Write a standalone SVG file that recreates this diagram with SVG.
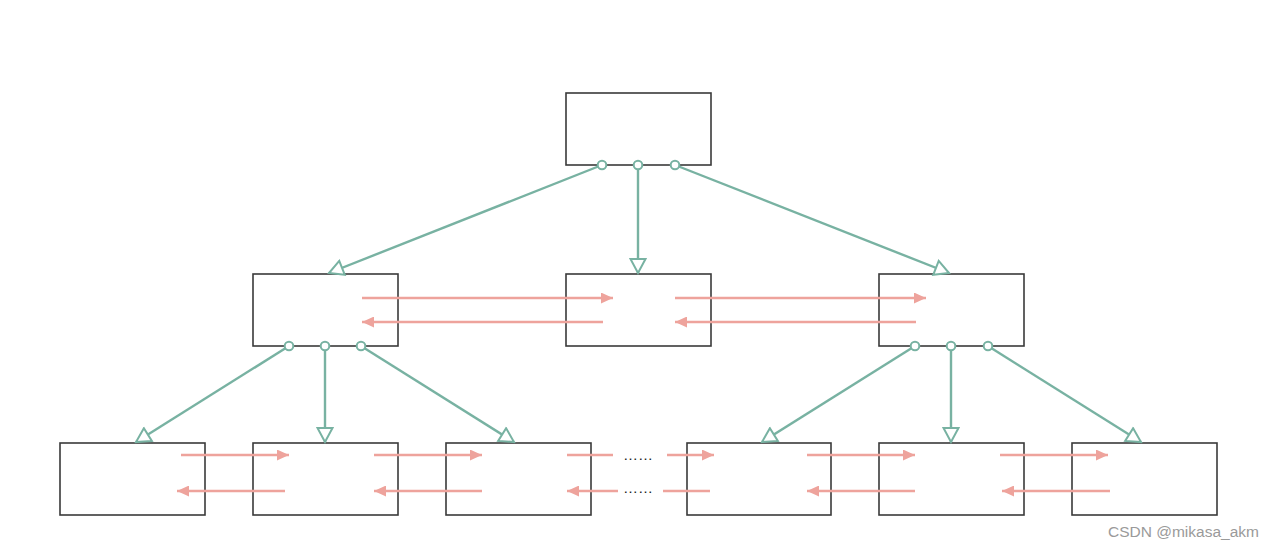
<svg xmlns="http://www.w3.org/2000/svg" width="1272" height="548" viewBox="0 0 1272 548">
<defs>
<style>
.box{fill:#fff;stroke:#3a3a3a;stroke-width:1.6}
.tl{stroke:#78b2a2;stroke-width:2.4;fill:none;marker-end:url(#tri)}
.pk{stroke:#eea39c;stroke-width:2.6;fill:none}
.pa{marker-end:url(#pa)}
.dot{fill:#fff;stroke:#78b2a2;stroke-width:2}
.dots{font-family:"Liberation Sans",Arial,sans-serif;font-size:15px;fill:#222}
</style>
<marker id="tri" viewBox="0 0 18 18" refX="16" refY="9" markerWidth="18" markerHeight="18" markerUnits="userSpaceOnUse" orient="auto">
<polygon points="2,1.5 16,9 2,16.5" fill="#fff" stroke="#78b2a2" stroke-width="2"/>
</marker>
<marker id="pa" viewBox="0 0 12 11" refX="12" refY="5.5" markerWidth="12" markerHeight="11" markerUnits="userSpaceOnUse" orient="auto">
<polygon points="0,0 12,5.5 0,11" fill="#eea39c"/>
</marker>
</defs>
<rect width="1272" height="548" fill="#fff"/>
<g id="nodes">
<g id="root"><rect class="box" x="566" y="93" width="145" height="72"/></g>
<g id="m1"><rect class="box" x="253" y="274" width="145" height="72"/></g>
<g id="m2"><rect class="box" x="566" y="274" width="145" height="72"/></g>
<g id="m3"><rect class="box" x="879" y="274" width="145" height="72"/></g>
<g id="l1"><rect class="box" x="60" y="443" width="145" height="72"/></g>
<g id="l2"><rect class="box" x="253" y="443" width="145" height="72"/></g>
<g id="l3"><rect class="box" x="446" y="443" width="145" height="72"/></g>
<g id="l4"><rect class="box" x="687" y="443" width="144" height="72"/></g>
<g id="l5"><rect class="box" x="879" y="443" width="145" height="72"/></g>
<g id="l6"><rect class="box" x="1072" y="443" width="145" height="72"/></g>
</g>
<g id="connectors">
<line class="tl" x1="602" y1="165" x2="329" y2="273"/>
<line class="tl" x1="638" y1="165" x2="638" y2="273"/>
<line class="tl" x1="675" y1="165" x2="949" y2="273"/>
<line class="tl" x1="289" y1="346" x2="136" y2="442"/>
<line class="tl" x1="325" y1="346" x2="325" y2="442"/>
<line class="tl" x1="361" y1="346" x2="514" y2="442"/>
<line class="tl" x1="915" y1="346" x2="762" y2="442"/>
<line class="tl" x1="951" y1="346" x2="951" y2="442"/>
<line class="tl" x1="988" y1="346" x2="1141" y2="442"/>
<circle class="dot" cx="602" cy="165" r="4.3"/>
<circle class="dot" cx="638" cy="165" r="4.3"/>
<circle class="dot" cx="675" cy="165" r="4.3"/>
<circle class="dot" cx="289" cy="346" r="4.3"/>
<circle class="dot" cx="325" cy="346" r="4.3"/>
<circle class="dot" cx="361" cy="346" r="4.3"/>
<circle class="dot" cx="915" cy="346" r="4.3"/>
<circle class="dot" cx="951" cy="346" r="4.3"/>
<circle class="dot" cx="988" cy="346" r="4.3"/>
<line class="pk pa" x1="362" y1="298" x2="613" y2="298"/>
<line class="pk pa" x1="603" y1="322" x2="362" y2="322"/>
<line class="pk pa" x1="675" y1="298" x2="926" y2="298"/>
<line class="pk pa" x1="916" y1="322" x2="675" y2="322"/>
<line class="pk pa" x1="181" y1="455" x2="289" y2="455"/>
<line class="pk pa" x1="285" y1="491" x2="177" y2="491"/>
<line class="pk pa" x1="374" y1="455" x2="482" y2="455"/>
<line class="pk pa" x1="482" y1="491" x2="374" y2="491"/>
<line class="pk" x1="567" y1="455" x2="613" y2="455"/>
<line class="pk pa" x1="618" y1="491" x2="567" y2="491"/>
<line class="pk pa" x1="667" y1="455" x2="714" y2="455"/>
<line class="pk" x1="710" y1="491" x2="663" y2="491"/>
<line class="pk pa" x1="807" y1="455" x2="915" y2="455"/>
<line class="pk pa" x1="915" y1="491" x2="807" y2="491"/>
<line class="pk pa" x1="1000" y1="455" x2="1108" y2="455"/>
<line class="pk pa" x1="1110" y1="491" x2="1002" y2="491"/>
</g>
<text class="dots" x="623" y="460">……</text>
<text class="dots" x="623" y="493">……</text>
<text x="1108" y="537" font-family="Liberation Sans,Arial,sans-serif" font-size="15.5" fill="#9a9a9a">CSDN @mikasa_akm</text>
</svg>
